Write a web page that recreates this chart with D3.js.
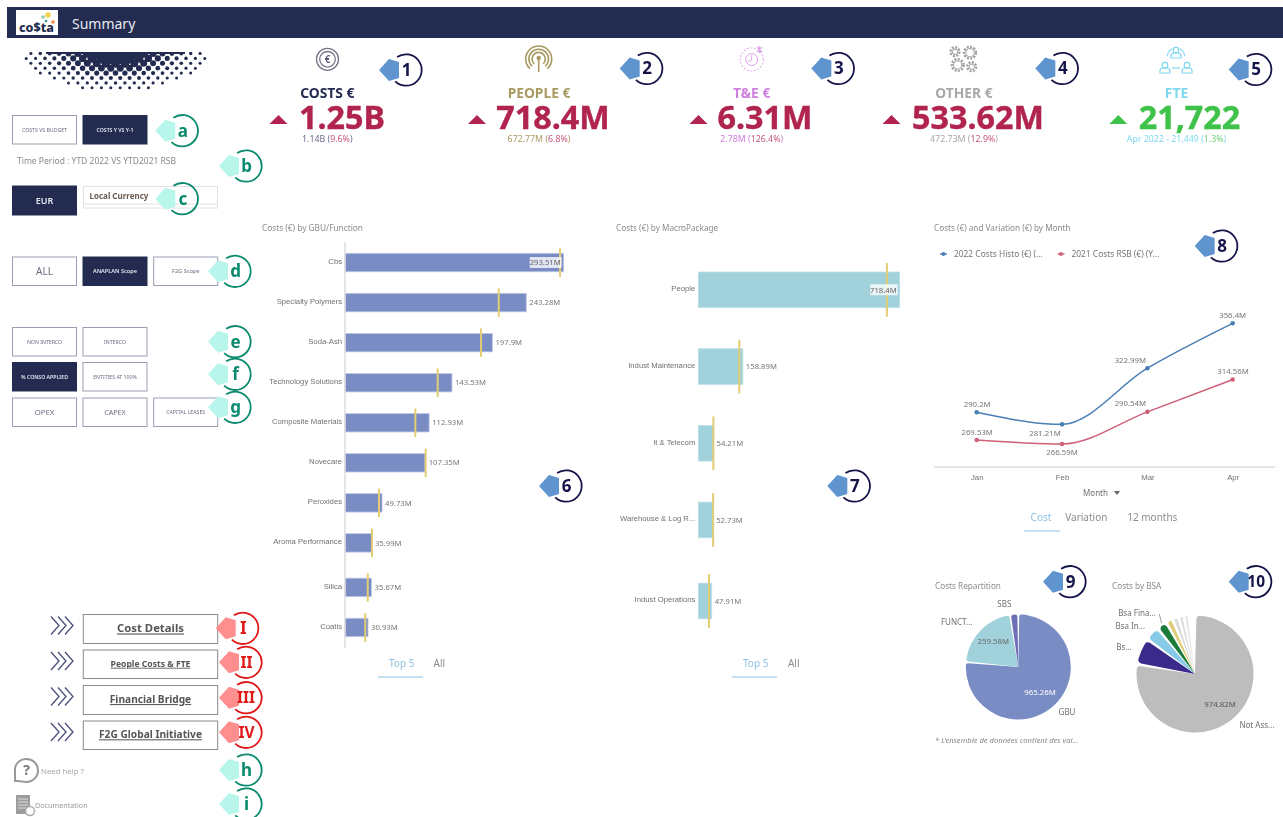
<!DOCTYPE html>
<html>
<head>
<meta charset="utf-8">
<title>Summary</title>
<script src="https://cdn.jsdelivr.net/npm/d3@7/dist/d3.min.js"></script>
<style>
  html, body { margin: 0; padding: 0; background: #fff; overflow: hidden; }
  svg { display: block; font-family: "Noto Sans", sans-serif; filter: blur(0.3px); }
</style>
</head>
<body>
<svg id="page" width="1283" height="817"></svg>
<script>
// values, all in millions unless noted
var gbuNames = ["Cbs", "Specialty Polymers", "Soda-Ash", "Technology Solutions", "Composite Materials", "Novecare", "Peroxides", "Aroma Performance", "Silica", "Coatis"];
var gbuValues = [293.51, 243.28, 197.9, 143.53, 112.93, 107.35, 49.73, 35.99, 35.67, 30.93];
var gbuLabels = ["293.51M", "243.28M", "197.9M", "143.53M", "112.93M", "107.35M", "49.73M", "35.99M", "35.67M", "30.93M"];
var gbuPrior = [288.6, 206.3, 182.6, 124.4, 94.4, 108.3, 45.6, 36.2, 30.5, 27.2];

var macroNames = ["People", "Indust Maintenance", "It & Telecom", "Warehouse & Log R...", "Indust Operations"];
var macroValues = [718.4, 158.89, 54.21, 52.73, 47.91];
var macroLabels = ["718.4M", "158.89M", "54.21M", "52.73M", "47.91M"];
var macroPrior = [672.77, 146.3, 53.8, 53, 38.2];

var months = ["Jan", "Feb", "Mar", "Apr"];
var costs2022 = [290.2, 281.21, 322.99, 356.4];
var costs2021 = [269.53, 266.59, 290.54, 314.56];
var labels2022 = ["290.2M", "281.21M", "322.99M", "356.4M"];
var labels2021 = ["269.53M", "266.59M", "290.54M", "314.56M"];

var repartNames = ["GBU", "FUNCT...", "SBS"];
var repartValues = [965.26, 259.58, 25];

var bsaNames = ["Not Ass...", "Bs...", "Bsa In...", "Bsa Fina...", "d", "e", "f", "g", "h"];
var bsaValues = [974.82, 92, 51, 35, 24, 21, 19, 17, 21];

var kpiTitles = ["COSTS €", "PEOPLE €", "T&E €", "OTHER €", "FTE"];
var kpiMain = ["1.25B", "718.4M", "6.31M", "533.62M", "21,722"];
var kpiPrior = ["1.14B ", "672.77M ", "2.78M ", "472.73M ", "Apr 2022 - 21,449 "];
var kpiPct = ["9.6%", "6.8%", "126.4%", "12.9%", "1.3%"];

var svg = d3.select("#page");
var navy = "#232c50", kpiRed = "#b0244f", txt = "#707070", titleGrey = "#8c8c8c";

function label(parent, x, y, s, size, fill, anchor, weight) {
  return parent.append("text")
    .attr("x", x).attr("y", y)
    .attr("dy", "0.35em")
    .attr("font-size", size)
    .attr("fill", fill)
    .attr("text-anchor", anchor || "start")
    .attr("font-weight", weight || 400)
    .text(s);
}

// ---------- header ----------
svg.append("rect").attr("x", 7).attr("y", 7).attr("width", 1276).attr("height", 31).attr("fill", navy);
svg.append("rect").attr("x", 16).attr("y", 10).attr("width", 42).attr("height", 25).attr("fill", "#fff");
label(svg, 19, 28, "co$ta", 12.5, navy, "start", 800);
[[48, 15, 2.8, "#efd44f"], [43, 17, 1.8, "#8fc9a8"], [53, 22, 1.8, "#ec8c3c"], [46, 21, 1.3, "#2c9c8c"]].forEach(function(d) {
  svg.append("circle").attr("cx", d[0]).attr("cy", d[1]).attr("r", d[2]).attr("fill", d[3]);
});
label(svg, 72, 24, "Summary", 14, "#e8eaf0");

// halftone half circle under the header
svg.append("clipPath").attr("id", "toneClip").append("rect").attr("x", 20).attr("y", 52).attr("width", 190).attr("height", 42);
var tone = svg.append("g").attr("fill", navy).attr("clip-path", "url(#toneClip)");
tone.append("rect").attr("x", 46).attr("y", 52).attr("width", 139).attr("height", 2);
for (var row = 0; row < 8; row++) {
  for (var col = -11; col <= 11; col++) {
    var px = 115.5 + (col + (row % 2 ? 0.5 : 0)) * 9.4;
    var py = 53.5 + row * 4.9;
    var dist = Math.sqrt(Math.pow((px - 115.5) / 92, 2) + Math.pow((py - 52) / 38.5, 2));
    if (dist > 1) continue;
    tone.append("circle").attr("cx", px).attr("cy", py)
      .attr("r", 1.5 + Math.pow(1 - dist, 2) * 6);
  }
}

// ---------- left hand buttons ----------
var buttons = [
  [12.5, 115.5, 64, 28.5, "COSTS VS BUDGET", 5.2, 0],
  [83, 115.5, 64, 28.5, "COSTS Y VS Y-1", 5.2, 1],
  [12.5, 186, 64, 29, "EUR", 9, 1],
  [12.5, 257, 64, 28.5, "ALL", 10, 0],
  [83, 257, 64, 28.5, "ANAPLAN Scope", 5.6, 1],
  [153.7, 257, 64, 28.5, "F2G Scope", 5.6, 0],
  [12.5, 327.5, 64, 28.5, "NON INTERCO", 5.2, 0],
  [83, 327.5, 64, 28.5, "INTERCO", 5.2, 0],
  [12.5, 362.5, 64, 28.5, "% CONSO APPLIED", 5.2, 1],
  [83, 362.5, 64, 28.5, "ENTITIES AT 100%", 5.2, 0],
  [12.5, 398, 64, 28.5, "OPEX", 7.8, 0],
  [83, 398, 64, 28.5, "CAPEX", 7.2, 0],
  [153.7, 398, 64, 28.5, "CAPITAL LEASES", 5.2, 0]
];
buttons.forEach(function(b) {
  svg.append("rect").attr("x", b[0]).attr("y", b[1]).attr("width", b[2]).attr("height", b[3])
    .attr("fill", b[6] ? navy : "#fff").attr("stroke", b[6] ? navy : "#9a9db4").attr("stroke-width", 1);
  label(svg, b[0] + b[2] / 2, b[1] + b[3] / 2, b[4], b[5], b[6] ? "#e4e6f0" : "#6a6d80", "middle", b[6] ? 600 : 400);
});
label(svg, 17, 161.5, "Time Period : YTD 2022 VS YTD2021 RSB", 8.5, "#8a8a8a");

svg.append("rect").attr("x", 83.5).attr("y", 186.5).attr("width", 134).attr("height", 21.5).attr("fill", "#fff").attr("stroke", "#e2e2e2");
svg.append("line").attr("x1", 84).attr("x2", 217).attr("y1", 204).attr("y2", 204).attr("stroke", "#e2e2e2");
label(svg, 89.5, 196, "Local Currency", 8, "#6a5a50", "start", 700);

var navButtons = [
  [614.5, 29, "Cost Details", 11.3],
  [650, 28.5, "People Costs & FTE", 8.6],
  [685.5, 29, "Financial Bridge", 10.2],
  [721, 28.5, "F2G Global Initiative", 10.2]
];
navButtons.forEach(function(b) {
  svg.append("rect").attr("x", 83.3).attr("y", b[0]).attr("width", 134.4).attr("height", b[1]).attr("fill", "#fff").attr("stroke", "#8a8a8a");
  label(svg, 150.5, b[0] + b[1] / 2 - 0.5, b[2], b[3], "#555", "middle", 700).attr("text-decoration", "underline");
  [0, 7, 14].forEach(function(dx) {
    svg.append("path")
      .attr("d", "M" + (51 + dx) + "," + (b[0] + 2) + " l8,9 l-8,9")
      .attr("fill", "none").attr("stroke", "#4a4f78").attr("stroke-width", 1.3);
  });
});

// help and documentation
svg.append("path").attr("d", "M18,781 L15,781 L15,768 A11,11 0 0 1 26,759 A11.5,11.5 0 0 1 38,770 A11.5,11.5 0 0 1 26,782 Z")
  .attr("fill", "none").attr("stroke", "#9a9a9a").attr("stroke-width", 2);
label(svg, 26.5, 770.5, "?", 14, "#777", "middle", 700);
label(svg, 41, 771, "Need help ?", 7.8, "#aaa");
svg.append("rect").attr("x", 16).attr("y", 795).attr("width", 14).attr("height", 19).attr("fill", "#9c9c9c");
[799, 802, 805, 808].forEach(function(y) {
  svg.append("line").attr("x1", 18).attr("x2", 28).attr("y1", y).attr("y2", y).attr("stroke", "#ddd").attr("stroke-width", 1);
});
svg.append("circle").attr("cx", 30).attr("cy", 811).attr("r", 4.5).attr("fill", "#fff").attr("stroke", "#aaa").attr("stroke-width", 1.5);
label(svg, 35, 805, "Documentation", 7.2, "#999");

// ---------- KPI row ----------
var kpiColors = [navy, "#a89a60", "#cf7fdd", "#a8a8a8", "#7fd8f0"];
var kpiCenters = [327.3, 539, 751.7, 964, 1176.5];
var mainCenters = [342, 553, 765, 978, 1189.5];
var triangles = [278.5, 477, 698.5, 891.5, 1118.3];

kpiTitles.forEach(function(t, i) {
  label(svg, kpiCenters[i], 92.7, t, 13.8, kpiColors[i], "middle", 700);
  var up = i == 4 ? "#3fc24a" : kpiRed;
  label(svg, mainCenters[i], 117.5, kpiMain[i], 32.3, up, "middle", 700)
    .attr("stroke", up).attr("stroke-width", 0.4);
  svg.append("path")
    .attr("d", "M" + (triangles[i] - 9) + ",124 L" + triangles[i] + ",115 L" + (triangles[i] + 9) + ",124 Z")
    .attr("fill", up);
  var sub = label(svg, kpiCenters[i], 139.3, "", 8.8, kpiColors[i] == navy ? "#6a6d8c" : kpiColors[i], "middle");
  sub.append("tspan").text(kpiPrior[i] + "(");
  sub.append("tspan").attr("fill", i == 4 ? "#6fce76" : "#c4587c").text(kpiPct[i]);
  sub.append("tspan").text(")");
});

// euro icon
svg.append("circle").attr("cx", 327.5).attr("cy", 59.3).attr("r", 11).attr("fill", "none").attr("stroke", "#77778c").attr("stroke-width", 1.3);
svg.append("circle").attr("cx", 327.5).attr("cy", 59.3).attr("r", 7.8).attr("fill", "none").attr("stroke", "#77778c").attr("stroke-width", 1.3);
label(svg, 327.5, 59, "€", 10, "#55556c", "middle", 600);

// antenna icon
[13, 9.8, 6.6].forEach(function(r) {
  svg.append("path")
    .attr("transform", "translate(538.7,59)")
    .attr("d", d3.arc()({innerRadius: r - 0.8, outerRadius: r + 0.8, startAngle: -2.4, endAngle: 2.4}))
    .attr("fill", "#a89a60");
});
svg.append("line").attr("x1", 538.7).attr("x2", 538.7).attr("y1", 58).attr("y2", 72).attr("stroke", "#a89a60").attr("stroke-width", 1.6);
svg.append("circle").attr("cx", 538.7).attr("cy", 58).attr("r", 2.2).attr("fill", "#a89a60");

// travel icon
svg.append("circle").attr("cx", 751.7).attr("cy", 59.5).attr("r", 11.5).attr("fill", "none").attr("stroke", "#e4b4ec").attr("stroke-width", 1.1).attr("stroke-dasharray", "2,1.5");
svg.append("circle").attr("cx", 751.7).attr("cy", 59.5).attr("r", 6).attr("fill", "none").attr("stroke", "#dda4e8").attr("stroke-width", 1);
svg.append("path").attr("d", "M751.7,55 L751.7,60 L748,62").attr("fill", "none").attr("stroke", "#dda4e8");
svg.append("path").attr("d", "M757,47 L762,52 M762,47 L757,52 M759.5,46 L759.5,53").attr("stroke", "#dda4e8").attr("stroke-width", 1.2);

// gears icon
[[955, 51.7, 3.5], [970, 52.7, 5], [957.7, 65, 5], [971.7, 66.7, 3.5]].forEach(function(g) {
  svg.append("circle").attr("cx", g[0]).attr("cy", g[1]).attr("r", g[2] + 0.9).attr("fill", "none")
    .attr("stroke", "#a0a0a0").attr("stroke-width", 2.4).attr("stroke-dasharray", "2,1.4");
  svg.append("circle").attr("cx", g[0]).attr("cy", g[1]).attr("r", g[2] - 0.8).attr("fill", "#fff")
    .attr("stroke", "#a0a0a0").attr("stroke-width", 1);
});

// people icon
[[1176, 52], [1165, 67], [1187, 67]].forEach(function(p) {
  svg.append("circle").attr("cx", p[0]).attr("cy", p[1] - 1.8).attr("r", 2.8).attr("fill", "none").attr("stroke", "#7fd8f0").attr("stroke-width", 1.2);
  svg.append("path").attr("d", "M" + (p[0] - 5) + "," + (p[1] + 6) + " v-2 a3,3 0 0 1 3,-3 h4 a3,3 0 0 1 3,3 v2 Z")
    .attr("fill", "none").attr("stroke", "#7fd8f0").attr("stroke-width", 1.2);
});
svg.append("line").attr("x1", 1172).attr("x2", 1180).attr("y1", 68).attr("y2", 68).attr("stroke", "#7fd8f0").attr("stroke-width", 1.2);
svg.append("path").attr("d", "M1167,56 Q1169,50 1172,49 M1185,56 Q1183,50 1180,49").attr("fill", "none").attr("stroke", "#7fd8f0").attr("stroke-width", 1.2);

// ---------- bar charts ----------
function drawBars(o) {
  var g = svg.append("g");
  var x = d3.scaleLinear().domain([0, o.values[0]]).range(o.xRange);
  var y = d3.scaleBand().domain(o.names).range(o.yRange).paddingInner(o.pad).paddingOuter(o.pad / 2);
  // the last rows sit a little lower in the original
  function rowY(name) {
    return y(name) + (o.names.indexOf(name) >= o.shiftFrom ? o.shift : 0);
  }
  var axis = g.append("g")
    .attr("transform", "translate(" + (o.xRange[0] - 3) + ",0)")
    .call(d3.axisLeft(y).tickSize(0).tickPadding(0));
  axis.select(".domain").remove();
  axis.selectAll(".tick")
    .attr("transform", function(d) { return "translate(0," + (rowY(d) + y.bandwidth() / 2 - 1) + ")"; });
  axis.selectAll("text").attr("font-size", o.fontSize).attr("font-family", "inherit").attr("fill", txt);

  g.selectAll("rect.bar").data(o.names).enter().append("rect")
    .attr("class", "bar")
    .attr("x", o.xRange[0])
    .attr("y", function(d) { return rowY(d); })
    .attr("width", function(d, i) { return x(o.values[i]) - o.xRange[0]; })
    .attr("height", y.bandwidth())
    .attr("fill", o.color)
    .attr("stroke", o.edge)
    .attr("stroke-width", 0.8);

  g.selectAll("line.prior").data(o.names).enter().append("line")
    .attr("class", "prior")
    .attr("x1", function(d, i) { return x(o.prior[i]); })
    .attr("x2", function(d, i) { return x(o.prior[i]); })
    .attr("y1", function(d) { return rowY(d) - o.over; })
    .attr("y2", function(d) { return rowY(d) + y.bandwidth() + o.over; })
    .attr("stroke", "#e2cd72")
    .attr("stroke-width", 2);

  o.names.forEach(function(d, i) {
    var cy = rowY(d) + y.bandwidth() / 2;
    if (i == 0) {
      // top bar keeps its label inside, on a pale box
      var bw = o.boxWidth;
      g.append("rect").attr("x", x(o.values[0]) - bw - 2).attr("y", cy - 5.5).attr("width", bw).attr("height", 11)
        .attr("rx", 1).attr("fill", "#fff").attr("fill-opacity", 0.78);
      label(g, x(o.values[0]) - 3, cy, o.labels[0], o.fontSize, "#666", "end");
    } else {
      label(g, Math.max(x(o.values[i]), x(o.prior[i])) + 3, cy, o.labels[i], o.fontSize, "#777");
    }
  });
}

drawBars({
  names: gbuNames, values: gbuValues, labels: gbuLabels, prior: gbuPrior,
  xRange: [345, 563.7], yRange: [242.5, 643], pad: 0.538,
  shiftFrom: 8, shift: 4.5, over: 5, color: "#7a8cc4", edge: "#c3cbe7", boxWidth: 32, fontSize: 7.7
});
svg.append("line").attr("x1", 345).attr("x2", 345).attr("y1", 242).attr("y2", 648).attr("stroke", "#dcdcdc").attr("stroke-width", 1.5);

drawBars({
  names: macroNames, values: macroValues, labels: macroLabels, prior: macroPrior,
  xRange: [698.3, 899.7], yRange: [251.5, 635], pad: 0.5346,
  shiftFrom: 4, shift: 4.3, over: 9, color: "#a1d2dc", edge: "#bfe2ea", boxWidth: 27.5, fontSize: 7.7
});

label(svg, 262, 228, "Costs (€) by GBU/Function", 8.3, titleGrey);
label(svg, 616, 228, "Costs (€) by MacroPackage", 8.2, titleGrey);
label(svg, 934, 228, "Costs (€) and Variation (€) by Month", 8.2, titleGrey);
label(svg, 935, 586, "Costs Repartition", 8.2, titleGrey);
label(svg, 1112, 586, "Costs by BSA", 8.2, titleGrey);

function tab(x, y, s, on) {
  label(svg, x, y, s, 10, on ? "#8fc1e3" : "#8c8c8c", "middle");
}
function tabLine(x1, x2, y) {
  svg.append("line").attr("x1", x1).attr("x2", x2).attr("y1", y).attr("y2", y).attr("stroke", "#8fc1e3").attr("stroke-width", 1.2);
}
tab(401.7, 663.5, "Top 5", true); tab(439.3, 663.5, "All"); tabLine(378, 423, 677);
tab(755.7, 663.5, "Top 5", true); tab(793.7, 663.5, "All"); tabLine(732, 777, 677);
tab(1041, 517.7, "Cost", true); tab(1086.3, 517.7, "Variation"); tab(1152.3, 517.7, "12 months"); tabLine(1024.3, 1060, 531);

// ---------- line chart ----------
var lineBlue = "#4a7fb5", lineRed = "#d0607a";
var xMonth = d3.scalePoint().domain(months).range([976.7, 1232.7]);
var yCost = d3.scaleLinear().domain([249.5, 356.4]).range([467, 323.3]);

svg.append("line").attr("x1", 934).attr("x2", 1275).attr("y1", 467).attr("y2", 467).attr("stroke", "#dedede").attr("stroke-width", 1.5);
var monthAxis = svg.append("g").attr("transform", "translate(0,467)")
  .call(d3.axisBottom(xMonth).tickSize(0).tickPadding(7));
monthAxis.select(".domain").remove();
monthAxis.selectAll("text").attr("font-size", 7.8).attr("font-family", "inherit").attr("fill", txt);
label(svg, 1095.5, 492.7, "Month", 8, txt, "middle");
svg.append("path").attr("d", "M1114,491 h6 l-3,4 Z").attr("fill", "#666");

var lineGen = d3.line()
  .x(function(d, i) { return xMonth(months[i]); })
  .y(function(d) { return yCost(d); })
  .curve(d3.curveMonotoneX);

// label offsets from each point, [dx, dy]
var offsets2022 = [[0.5, -8], [-17, 8.4], [-17, -8.3], [0, -8.3]];
var offsets2021 = [[0.5, -8.3], [0, 8.3], [-17, -8.3], [0.3, -8]];

[[costs2022, labels2022, offsets2022, lineBlue], [costs2021, labels2021, offsets2021, lineRed]].forEach(function(s) {
  svg.append("path").attr("d", lineGen(s[0])).attr("fill", "none").attr("stroke", s[3]).attr("stroke-width", 1.5);
  s[0].forEach(function(v, i) {
    var px = xMonth(months[i]), py = yCost(v);
    svg.append("circle").attr("cx", px).attr("cy", py).attr("r", 2.3).attr("fill", s[3]);
    label(svg, px + s[2][i][0], py + s[2][i][1], s[1][i], 7.8, "#777", "middle");
  });
});

[[943.5, lineBlue, "2022 Costs Histo (€) (..."], [1061, lineRed, "2021 Costs RSB (€) (Y..."]].forEach(function(l) {
  svg.append("line").attr("x1", l[0] - 3.5).attr("x2", l[0] + 3.5).attr("y1", 254).attr("y2", 254).attr("stroke", l[1]).attr("stroke-width", 1.4);
  svg.append("circle").attr("cx", l[0]).attr("cy", 254).attr("r", 1.9).attr("fill", l[1]);
  label(svg, l[0] + 10.5, 254, l[2], 8.4, "#777");
});

// ---------- pies ----------
function drawPie(cx, cy, r, values, colors, piePad, arcPad, corner) {
  var pie = d3.pie().sort(null).padAngle(piePad);
  var arc = d3.arc().innerRadius(0).outerRadius(r).cornerRadius(corner)
    .padAngle(function(d) { return d.padAngle + arcPad; });
  svg.append("g").attr("transform", "translate(" + cx + "," + cy + ")")
    .selectAll("path").data(pie(values)).enter().append("path")
    .attr("d", arc)
    .attr("fill", function(d, i) { return colors[i]; });
}
drawPie(1018.3, 667, 52.5, repartValues, ["#7a8cc4", "#a1d2dc", "#6f6fb8"], 0.035, 0, 2.5);
drawPie(1195, 674, 58.5, bsaValues, ["#bdbdbd", "#3a2a8a", "#85cbe8", "#1a7a3a", "#e0cc7a", "#dcdcdc", "#dedede", "#e2e2e2", "#fff"], 0, 0.05, 3.5);

label(svg, 1040, 692, "965.26M", 7.8, "#fff", "middle");
label(svg, 1067, 711.7, "GBU", 8, txt, "middle");
label(svg, 993.3, 641, "259.58M", 7.8, "#666", "middle");
label(svg, 956.7, 622, repartNames[1], 8, txt, "middle");
label(svg, 1004.3, 604, repartNames[2], 8, txt, "middle");
label(svg, 1220, 704, "974.82M", 7.8, "#555", "middle");
label(svg, 1257, 725, bsaNames[0], 8, txt, "middle");
label(svg, 1124, 646.7, bsaNames[1], 8, txt, "middle");
label(svg, 1130.3, 626.3, bsaNames[2], 8, txt, "middle");
label(svg, 1137, 612.7, bsaNames[3], 8, txt, "middle");
svg.append("line").attr("x1", 1159.3).attr("y1", 614).attr("x2", 1161.7).attr("y2", 623.3).attr("stroke", "#888").attr("stroke-width", 0.8);
label(svg, 935, 740, "* L'ensemble de données contient des val...", 7.6, "#888").attr("font-style", "italic");

// ---------- numbered call-outs ----------
var callouts = [
  ["1", 406, 70, "b"], ["2", 646.7, 68.5, "b"], ["3", 838.3, 68.5, "b"], ["4", 1062.3, 68.5, "b"], ["5", 1255.7, 69.5, "b"],
  ["6", 566, 486, "b"], ["7", 854.3, 486, "b"], ["8", 1221.7, 246, "b"], ["9", 1070, 581.7, "b"], ["10", 1255.7, 581.7, "b"],
  ["a", 182.3, 130.7, "g"], ["b", 246, 166, "g"], ["c", 182.3, 198.7, "g"], ["d", 235, 271.3, "g"], ["e", 235, 341.7, "g"],
  ["f", 235, 374.3, "g"], ["g", 235, 407.3, "g"], ["h", 246, 770, "g"], ["i", 246, 804, "g"],
  ["I", 242.7, 628.3, "r"], ["II", 246, 662.3, "r"], ["III", 246, 697.7, "r"], ["IV", 246, 732.3, "r"]
];
var calloutStyle = {
  b: {ring: "#14144a", arrow: "#5f94cf", text: "#14144a"},
  g: {ring: "#0a8a6e", arrow: "#b8f5ea", text: "#0a8a6e"},
  r: {ring: "#e01818", arrow: "#ff8f8f", text: "#e01818"}
};
var ringArc = d3.arc().innerRadius(14.8).outerRadius(16.6).startAngle(-0.6).endAngle(3.9);
callouts.forEach(function(c) {
  var st = calloutStyle[c[3]];
  var g = svg.append("g").attr("transform", "translate(" + c[1] + "," + c[2] + ")");
  g.append("path").attr("d", ringArc()).attr("fill", st.ring);
  g.append("path").attr("d", "M-27,0 L-17,-11 L-7,-8 L-7,8 L-17,11 Z").attr("fill", st.arrow);
  label(g, c[0].length > 2 ? 0 : 0.5, 0, c[0], c[0].length > 1 ? 15.5 : 17, st.text, "middle", 700);
});
</script>
</body>
</html>
